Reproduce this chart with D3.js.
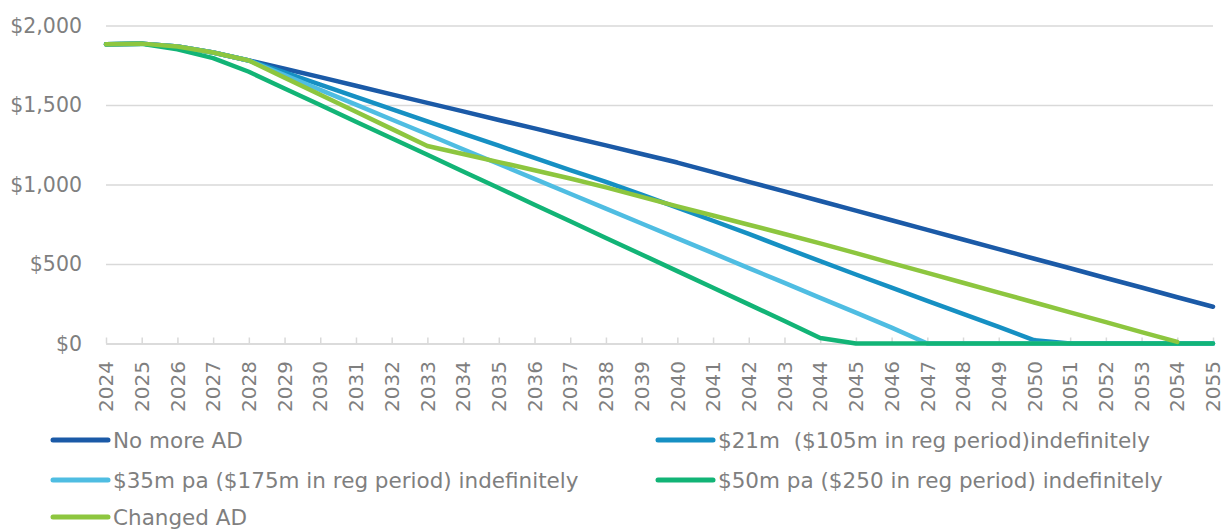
<!DOCTYPE html>
<html>
<head>
<meta charset="utf-8">
<script src="https://cdn.jsdelivr.net/npm/d3@7"></script>
<style>
  body { margin: 0; background: #fff; }
  svg { display: block; font-family: "DejaVu Sans", sans-serif; }
</style>
</head>
<body>
<script>
// data
const years = d3.range(2024, 2056);

const noMoreAD = [1882, 1886, 1868, 1830, 1780, 1728, 1675, 1621, 1567, 1513, 1460, 1406, 1353, 1299, 1246, 1192,
                  1138, 1078, 1017, 957, 896, 836, 775, 715, 654, 594, 533, 473, 412, 352, 291, 231];
const ad21 = [1882, 1886, 1868, 1830, 1780, 1705, 1628, 1551, 1474, 1397, 1320, 1244, 1167, 1090, 1017, 937,
              855, 772, 689, 603, 518, 434, 351, 268, 186, 104, 20, 0, 0, 0, 0, 0];
const ad35 = [1882, 1886, 1868, 1830, 1780, 1688, 1595, 1502, 1409, 1316, 1222, 1129, 1035, 942, 848, 755,
              661, 568, 474, 381, 287, 194, 100, 0, 0, 0, 0, 0, 0, 0, 0, 0];
const ad50 = [1882, 1885, 1850, 1795, 1709, 1604, 1500, 1395, 1291, 1187, 1082, 978, 873, 769, 664, 560,
              455, 351, 246, 142, 35, 0, 0, 0, 0, 0, 0, 0, 0, 0, 0, 0];
const changedAD = [1882, 1886, 1868, 1830, 1780, 1672, 1565, 1457, 1350, 1242, 1192, 1141, 1090, 1038, 982, 922,
                   862, 805, 747, 689, 630, 568, 506, 444, 382, 320, 258, 196, 134, 72, 10];

const seriesNames = ["No more AD", "$21m  ($105m in reg period)indefinitely", "$35m pa ($175m in reg period) indefinitely",
                     "$50m pa ($250 in reg period) indefinitely", "Changed AD"];
const seriesColors = ["#1b5aa7", "#1690c3", "#4fbde2", "#12b476", "#8dc63f"];
const seriesValues = [noMoreAD, ad21, ad35, ad50, changedAD];
const yTicks = [0, 500, 1000, 1500, 2000];

const W = 1225, H = 532;
const plotLeft = 106, plotRight = 1213, plotTop = 25.5, plotBottom = 343.5;

const svg = d3.select("body").append("svg")
  .attr("width", W)
  .attr("height", H);

const x = d3.scalePoint()
  .domain(years)
  .range([plotLeft, plotRight]);

const y = d3.scaleLinear()
  .domain([0, 2000])
  .range([plotBottom, plotTop]);

// gridlines + y labels
const yAxis = d3.axisLeft(y)
  .tickValues(yTicks)
  .tickSize(-(plotRight - plotLeft))
  .tickPadding(24)
  .tickFormat(d => "$" + d3.format(",")(d));

const gy = svg.append("g")
  .attr("transform", "translate(" + plotLeft + ",0)")
  .call(yAxis);
gy.select(".domain").remove();
gy.selectAll("line").attr("stroke", "#d9d9d9").attr("stroke-width", 1.5);
gy.selectAll("text")
  .attr("fill", "#7f7f7f")
  .attr("font-size", 20.5)
  .attr("font-family", "DejaVu Sans");

// x axis with inside ticks
const xAxis = d3.axisBottom(x)
  .tickSizeInner(-6)
  .tickSizeOuter(0)
  .tickFormat("");

const gx = svg.append("g")
  .attr("transform", "translate(0," + plotBottom + ")")
  .call(xAxis);
gx.select(".domain").attr("stroke", "#d9d9d9").attr("stroke-width", 1.5);
gx.selectAll("line").attr("stroke", "#d9d9d9").attr("stroke-width", 1.5);

svg.append("g").selectAll("text")
  .data(years)
  .join("text")
  .attr("transform", d => "translate(" + x(d) + ",361) rotate(-90)")
  .attr("text-anchor", "end")
  .attr("dy", "0.36em")
  .attr("fill", "#7f7f7f")
  .attr("font-size", 20)
  .text(d => d);

// lines
const line = d3.line()
  .x((d, i) => x(years[i]))
  .y(d => y(d));

svg.append("g").selectAll("path")
  .data(seriesValues)
  .join("path")
  .attr("d", d => line(d))
  .attr("fill", "none")
  .attr("stroke", (d, i) => seriesColors[i])
  .attr("stroke-width", 4.5)
  .attr("stroke-linejoin", "round")
  .attr("stroke-linecap", "round");

// legend, two columns
const legendPos = [[53, 440], [658, 440], [53, 480], [658, 480], [53, 517]];
const lg = svg.append("g").selectAll("g")
  .data(seriesNames)
  .join("g")
  .attr("transform", (d, i) => "translate(" + legendPos[i][0] + "," + legendPos[i][1] + ")");
lg.append("line")
  .attr("x1", 0).attr("x2", 55)
  .attr("stroke", (d, i) => seriesColors[i])
  .attr("stroke-width", 5)
  .attr("stroke-linecap", "round");
lg.append("text")
  .attr("x", 60)
  .attr("dy", "0.35em")
  .attr("fill", "#7f7f7f")
  .attr("font-size", 21.5)
  .style("white-space", "pre")
  .text(d => d);
</script>
</body>
</html>
